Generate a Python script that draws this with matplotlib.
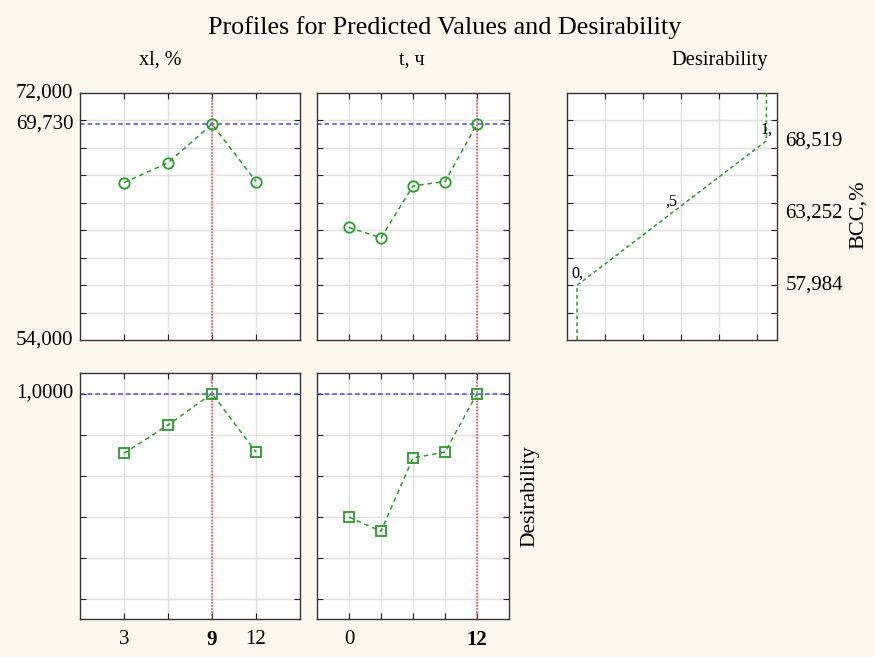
import numpy as np
import matplotlib
matplotlib.use("Agg")
import matplotlib.pyplot as plt

plt.rcParams['font.family'] = ['Liberation Serif', 'DejaVu Serif']

# predicted BCC,% at each factor level
x1_levels = [3, 6, 9, 12]
x1_pred = [65.47, 66.91, 69.73, 65.55]
t_levels = [0, 3, 6, 9, 12]
t_pred = [62.20, 61.45, 65.23, 65.55, 69.73]

# desirability at the same levels
x1_desir = [0.708, 0.846, 1.0, 0.714]
t_desir = [0.397, 0.328, 0.686, 0.714, 1.0]

# optimum settings and response
x1_opt = 9
t_opt = 12
pred_opt = 69.730
desir_opt = 1.0

# desirability function for BCC,%
desir_pts = [0.0, 0.5, 1.0]
bcc_pts = [57.984, 63.252, 68.519]
desir_labels = ['0,', ',5', '1,']

y_min, y_max = 54.0, 72.0

bg = '#fdf8ee'
green = '#2a9a2a'
grid_c = '#e0e0e0'

fig = plt.figure(figsize=(8.75, 6.57), dpi=100, facecolor=bg)

W, H = 875, 657
def box(x0, y0, x1, y1):
    return [x0 / W, 1 - y1 / H, (x1 - x0) / W, (y1 - y0) / H]

ax_tl = fig.add_axes(box(80, 93, 300, 340))
ax_tm = fig.add_axes(box(317, 93, 509, 340))
ax_tr = fig.add_axes(box(567, 93, 777, 340))
ax_bl = fig.add_axes(box(80, 373, 300, 619))
ax_bm = fig.add_axes(box(317, 373, 509, 619))

TS = 15  # tick label size


def style(ax):
    ax.set_facecolor('white')
    ax.grid(True, color=grid_c, linewidth=1.0)
    ax.set_axisbelow(True)
    ax.tick_params(direction='in', length=4, width=0.8, top=True, right=True,
                   colors='#222222')
    for s in ax.spines.values():
        s.set_color('#333333')
        s.set_linewidth(1.0)


def profile(ax, lv, vals, opt_x, opt_y, marker, ms):
    ax.axhline(opt_y, color='#4a4af0', linestyle=(0, (3, 2)), linewidth=1.1, zorder=2)
    ax.axvline(opt_x, color='#f03a3a', linestyle=(0, (1, 1)), linewidth=1.1, zorder=2)
    ax.plot(lv, vals, color=green, linestyle=(0, (3, 2.5)), linewidth=1.1,
            marker=marker, markersize=ms, markerfacecolor='none',
            markeredgecolor=green, markeredgewidth=1.3, zorder=3)


# top row: predicted values
for ax, lv, vals, xopt in [(ax_tl, x1_levels, x1_pred, x1_opt),
                           (ax_tm, t_levels, t_pred, t_opt)]:
    style(ax)
    profile(ax, lv, vals, xopt, pred_opt, 'o', 7.5)
    ax.set_ylim(y_min, y_max)
    ax.set_yticks(np.arange(56, 71, 2), minor=False)
    ax.set_xticks(lv)
    ax.tick_params(labelbottom=False, labelleft=False)

ax_tl.set_xlim(0, 15)
ax_tm.set_xlim(-3, 15)

# labelled values on the left of the first profile
for v in [y_max, pred_opt, y_min]:
    ax_tl.text(-0.03, v, f'{v:.3f}'.replace('.', ','), transform=ax_tl.get_yaxis_transform(),
               ha='right', va='center', fontsize=TS)

# bottom row: desirability
for ax, lv, vals, xopt in [(ax_bl, x1_levels, x1_desir, x1_opt),
                           (ax_bm, t_levels, t_desir, t_opt)]:
    style(ax)
    profile(ax, lv, vals, xopt, desir_opt, 's', 7)
    ax.set_ylim(-0.1, 1.1)
    ax.set_yticks(np.arange(0, 1.01, 0.2))
    ax.set_xticks(lv)
    ax.tick_params(labelleft=False, labelbottom=False)

ax_bl.set_xlim(0, 15)
ax_bm.set_xlim(-3, 15)
ax_bl.text(-0.03, desir_opt, '1,0000', transform=ax_bl.get_yaxis_transform(),
           ha='right', va='center', fontsize=TS)

# factor level labels below the desirability profiles
for ax, lv, xopt in [(ax_bl, [3, 9, 12], x1_opt), (ax_bm, [0, 12], t_opt)]:
    for v in lv:
        ax.text(v, -0.045, str(v), transform=ax.get_xaxis_transform(),
                ha='center', va='top', fontsize=TS,
                fontweight='bold' if v == xopt else 'normal')

# desirability function panel
style(ax_tr)
d_line = [desir_pts[0]] + desir_pts + [desir_pts[-1]]
b_line = [y_min] + bcc_pts + [y_max]
ax_tr.plot(d_line, b_line, color=green, linestyle=(0, (2.5, 2)), linewidth=1.1, zorder=3)
ax_tr.set_xlim(-0.053, 1.056)
ax_tr.set_ylim(y_min, y_max)
ax_tr.set_xticks([0.15, 0.35, 0.55, 0.75, 0.95])
ax_tr.set_yticks(np.arange(56, 71, 2))
ax_tr.tick_params(labelleft=False, labelbottom=False)
for d, b, lab in zip(desir_pts, bcc_pts, desir_labels):
    ax_tr.text(d, b + 0.25, lab, ha='center', va='bottom', fontsize=11.5, zorder=4)
for b in bcc_pts:
    ax_tr.text(1.04, b, f'{b:.3f}'.replace('.', ','), transform=ax_tr.get_yaxis_transform(),
               ha='left', va='center', fontsize=TS)

# titles and axis names
fig.text(0.508, 1 - 28 / H, 'Profiles for Predicted Values and Desirability',
         ha='center', va='center', fontsize=18.8)
fig.text(160 / W, 1 - 60 / H, 'xl, %', ha='center', va='center', fontsize=14.5)
fig.text(412 / W, 1 - 60 / H, 't, ч', ha='center', va='center', fontsize=14.5)
fig.text(720 / W, 1 - 60 / H, 'Desirability', ha='center', va='center', fontsize=14.8)
fig.text(858 / W, 1 - 215 / H, 'BCC,%', ha='center', va='center', fontsize=16, rotation=90)
fig.text(530 / W, 1 - 496 / H, 'Desirability', ha='center', va='center', fontsize=15.5, rotation=90)

fig.savefig('out.png', dpi=100, facecolor=bg)
